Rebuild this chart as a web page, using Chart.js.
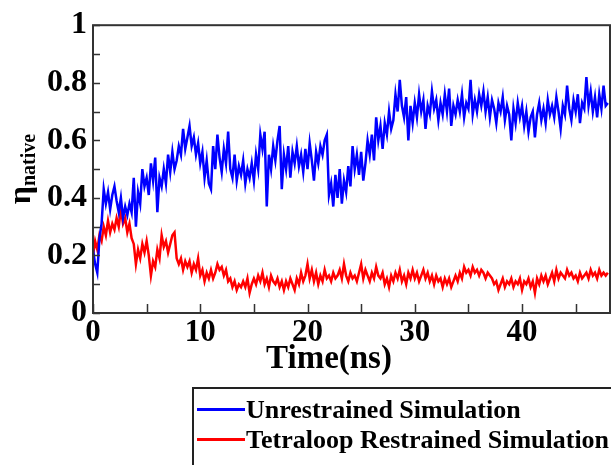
<!DOCTYPE html>
<html>
<head>
<meta charset="utf-8">
<script src="https://cdn.jsdelivr.net/npm/chart.js@4"></script>
<style>
    body { margin: 0; background: #fff; }
    #wrap { position: relative; width: 611px; height: 465px; overflow: hidden; }
    #legend {
        position: absolute; left: 192px; top: 387px; width: 500px; height: 120px;
        border: 2px solid #222; box-sizing: border-box;
        font: bold 26px "Liberation Serif", "Times New Roman", serif; color: #000;
    }
    .item { position: absolute; left: 3px; white-space: nowrap; }
    .item span.line { display: inline-block; width: 48px; height: 3px; vertical-align: middle; margin-right: 1px; position: relative; top: -3px; }
</style>
</head>
<body>
<div id="wrap">
    <canvas id="chart" width="611" height="465"></canvas>
    <div id="legend"></div>
</div>
<script>
// sampled every 0.2 ns
const timeStep = 0.2;

const unrestrained = [
    0.22, 0.17, 0.14, 0.26, 0.31,
    0.43, 0.38, 0.42, 0.36, 0.41,
    0.44, 0.39, 0.35, 0.40, 0.33,
    0.37, 0.34, 0.38, 0.35, 0.47,
    0.30, 0.42, 0.38, 0.50, 0.44,
    0.47, 0.41, 0.52, 0.46, 0.54,
    0.35, 0.47, 0.44, 0.50, 0.45,
    0.55, 0.49, 0.56, 0.50, 0.53,
    0.58, 0.55, 0.64, 0.57, 0.61,
    0.65, 0.58, 0.61, 0.55, 0.59,
    0.52, 0.56, 0.47, 0.53, 0.45,
    0.43, 0.58, 0.50, 0.62, 0.54,
    0.49, 0.57, 0.52, 0.63, 0.50,
    0.47, 0.55, 0.46, 0.51, 0.48,
    0.53, 0.45, 0.50, 0.47, 0.52,
    0.46, 0.55, 0.50, 0.62, 0.57,
    0.63, 0.37, 0.55, 0.50, 0.58,
    0.53, 0.60, 0.65, 0.43, 0.55,
    0.50, 0.58, 0.47, 0.56, 0.52,
    0.58, 0.51, 0.55, 0.49, 0.57,
    0.50, 0.59, 0.53, 0.46, 0.56,
    0.52, 0.58, 0.55, 0.60, 0.62,
    0.41, 0.45, 0.37, 0.48, 0.40,
    0.50, 0.38, 0.46, 0.42, 0.51,
    0.44, 0.58, 0.50, 0.55, 0.48,
    0.56, 0.46, 0.52, 0.60, 0.55,
    0.62, 0.53, 0.68, 0.60, 0.65,
    0.57, 0.66, 0.62, 0.70, 0.64,
    0.67, 0.76, 0.70, 0.81, 0.72,
    0.68, 0.75, 0.60, 0.72, 0.66,
    0.73, 0.68, 0.76, 0.70, 0.74,
    0.64, 0.72, 0.69, 0.77, 0.71,
    0.74, 0.67, 0.73, 0.69, 0.76,
    0.70, 0.78, 0.65, 0.72, 0.69,
    0.74, 0.70, 0.76, 0.68, 0.73,
    0.71, 0.81, 0.69, 0.74, 0.70,
    0.76, 0.72, 0.77, 0.70, 0.75,
    0.68, 0.74, 0.71, 0.66, 0.73,
    0.70, 0.75, 0.67, 0.72, 0.69,
    0.60, 0.71, 0.66, 0.73, 0.68,
    0.72, 0.65, 0.70, 0.63, 0.68,
    0.70, 0.61, 0.69, 0.73, 0.67,
    0.71, 0.66, 0.74, 0.69, 0.72,
    0.68, 0.75, 0.70, 0.64, 0.72,
    0.69, 0.79, 0.71, 0.67, 0.74,
    0.70, 0.76, 0.66, 0.73, 0.71,
    0.82, 0.72, 0.77, 0.70, 0.75,
    0.68, 0.76, 0.71, 0.79, 0.72,
    0.73
];

const restrained = [
    0.20, 0.25, 0.22, 0.27, 0.25,
    0.30, 0.27, 0.32, 0.28, 0.31,
    0.29, 0.33, 0.30, 0.36, 0.31,
    0.33, 0.28, 0.31, 0.26, 0.24,
    0.17, 0.22, 0.19, 0.24, 0.21,
    0.25, 0.20, 0.13, 0.18, 0.16,
    0.22, 0.19, 0.27, 0.23, 0.25,
    0.21, 0.24, 0.27, 0.28, 0.19,
    0.17, 0.19, 0.15, 0.18, 0.16,
    0.18, 0.14, 0.17, 0.15, 0.19,
    0.13, 0.15, 0.11, 0.14, 0.12,
    0.15, 0.12, 0.14, 0.17, 0.15,
    0.16, 0.13, 0.15, 0.11, 0.12,
    0.09, 0.11, 0.08, 0.10, 0.09,
    0.11, 0.09, 0.12, 0.07, 0.10,
    0.12, 0.10, 0.13, 0.11, 0.14,
    0.10, 0.12, 0.09, 0.13, 0.11,
    0.10, 0.12, 0.09, 0.11, 0.08,
    0.11, 0.09, 0.12, 0.10, 0.08,
    0.12, 0.10, 0.14, 0.11, 0.13,
    0.17, 0.12, 0.15, 0.11, 0.14,
    0.10, 0.13, 0.11, 0.15, 0.12,
    0.13, 0.11, 0.14, 0.12, 0.13,
    0.15, 0.12, 0.17, 0.13, 0.11,
    0.14, 0.12, 0.13, 0.11, 0.14,
    0.17, 0.12, 0.15, 0.13, 0.11,
    0.14, 0.12, 0.16, 0.13, 0.12,
    0.14, 0.10, 0.12, 0.09, 0.13,
    0.11, 0.14, 0.12, 0.15, 0.11,
    0.13, 0.10, 0.14, 0.12, 0.15,
    0.12, 0.14, 0.11, 0.13, 0.15,
    0.12, 0.14, 0.11, 0.13, 0.10,
    0.13, 0.11, 0.12, 0.09, 0.12,
    0.10, 0.12, 0.09, 0.11, 0.13,
    0.11, 0.14, 0.12, 0.16, 0.14,
    0.15, 0.13, 0.16, 0.14, 0.15,
    0.13, 0.15, 0.14, 0.12, 0.14,
    0.13, 0.12, 0.10, 0.11, 0.08,
    0.10, 0.12, 0.09, 0.11, 0.10,
    0.12, 0.09, 0.11, 0.10, 0.12,
    0.08, 0.11, 0.10, 0.12, 0.09,
    0.11, 0.07, 0.12, 0.10, 0.13,
    0.11, 0.13, 0.10, 0.12, 0.14,
    0.11, 0.15, 0.12, 0.14, 0.13,
    0.12, 0.15, 0.13, 0.14, 0.12,
    0.13, 0.11, 0.14, 0.12, 0.13,
    0.14, 0.12, 0.15, 0.13, 0.14,
    0.12, 0.15, 0.13, 0.14, 0.13,
    0.14
];

const seriesNames = ['Unrestrained Simulation', 'Tetraloop Restrained Simulation'];
const seriesColors = ['#0000ff', '#ff0000'];
const xTickLabels = ['0', '10', '20', '30', '40'];
const yTickLabels = ['0', '0.2', '0.4', '0.6', '0.8', '1'];

const serif = '"Liberation Serif", "Times New Roman", serif';

function toPoints(values) {
    return values.map((v, i) => ({ x: i * timeStep, y: v }));
}

// frame, inward ticks and axis titles
const framePlugin = {
    id: 'frame',
    afterDraw(chart) {
        const { ctx, chartArea: a, scales: { x, y } } = chart;
        ctx.save();
        ctx.strokeStyle = '#333';
        ctx.lineWidth = 2;
        ctx.strokeRect(a.left, a.top, a.right - a.left, a.bottom - a.top);

        ctx.lineWidth = 1.5;
        ctx.beginPath();
        x.ticks.forEach(t => {
            const px = Math.round(x.getPixelForValue(t.value)) + 0.5;
            ctx.moveTo(px, a.bottom);
            ctx.lineTo(px, a.bottom - 9);
        });
        y.ticks.forEach(t => {
            const py = Math.round(y.getPixelForValue(t.value)) + 0.5;
            ctx.moveTo(a.left, py);
            ctx.lineTo(a.left + 7, py);
        });
        ctx.stroke();

        ctx.fillStyle = '#000';
        ctx.textBaseline = 'alphabetic';

        // x title
        ctx.font = 'bold 33px ' + serif;
        ctx.textAlign = 'center';
        ctx.fillText('Time(ns)', 329, 368);

        // y title with subscript
        ctx.translate(30, (a.top + a.bottom) / 2);
        ctx.rotate(-Math.PI / 2);
        ctx.textAlign = 'left';
        ctx.font = 'bold 32px ' + serif;
        const wEta = ctx.measureText('η').width;
        ctx.font = 'bold 20px ' + serif;
        const wSub = ctx.measureText('native').width;
        const start = -(wEta + wSub) / 2;
        ctx.font = 'bold 32px ' + serif;
        ctx.fillText('η', start, 0);
        ctx.font = 'bold 20px ' + serif;
        ctx.fillText('native', start + wEta, 5);
        ctx.restore();
    }
};

new Chart(document.getElementById('chart'), {
    type: 'line',
    data: {
        datasets: [
            {
                label: seriesNames[0],
                data: toPoints(unrestrained),
                borderColor: seriesColors[0],
                borderWidth: 2.5,
                pointRadius: 0,
                tension: 0
            },
            {
                label: seriesNames[1],
                data: toPoints(restrained),
                borderColor: seriesColors[1],
                borderWidth: 2.5,
                pointRadius: 0,
                tension: 0
            }
        ]
    },
    options: {
        responsive: false,
        animation: false,
        devicePixelRatio: 1,
        layout: { padding: { top: 22, right: 1, left: 0, bottom: 0 } },
        plugins: {
            legend: { display: false },
            tooltip: { enabled: false }
        },
        scales: {
            x: {
                type: 'linear',
                min: 0,
                max: 48.2,
                grid: { display: false, drawTicks: false },
                border: { display: false },
                afterFit: scale => { scale.height = 152; },
                ticks: {
                    stepSize: 5,
                    includeBounds: false,
                    autoSkip: false,
                    maxRotation: 0,
                    padding: 1,
                    color: '#000',
                    font: { family: serif, size: 31, weight: 'bold' },
                    callback: value => {
                        const label = String(Math.round(value));
                        return xTickLabels.includes(label) && Math.abs(value - Math.round(value)) < 1e-6 ? label : '';
                    }
                }
            },
            y: {
                min: 0,
                max: 1,
                grid: { display: false, drawTicks: false },
                border: { display: false },
                afterFit: scale => { scale.width = 93; },
                ticks: {
                    stepSize: 0.1,
                    autoSkip: false,
                    padding: 6,
                    color: '#000',
                    font: { family: serif, size: 32, weight: 'bold' },
                    callback: value => {
                        const n = Math.round(value * 10);
                        if (n % 2 !== 0) return '';
                        const label = n === 0 ? '0' : n === 10 ? '1' : (n / 10).toFixed(1);
                        return yTickLabels.includes(label) ? label : '';
                    }
                }
            }
        }
    },
    plugins: [framePlugin]
});

// legend box below the plot
const legend = document.getElementById('legend');
seriesNames.forEach((name, i) => {
    const row = document.createElement('div');
    row.className = 'item';
    row.style.top = (6 + i * 30) + 'px';
    row.innerHTML = '<span class="line" style="background:' + seriesColors[i] + '"></span>' + name;
    legend.appendChild(row);
});
</script>
</body>
</html>
